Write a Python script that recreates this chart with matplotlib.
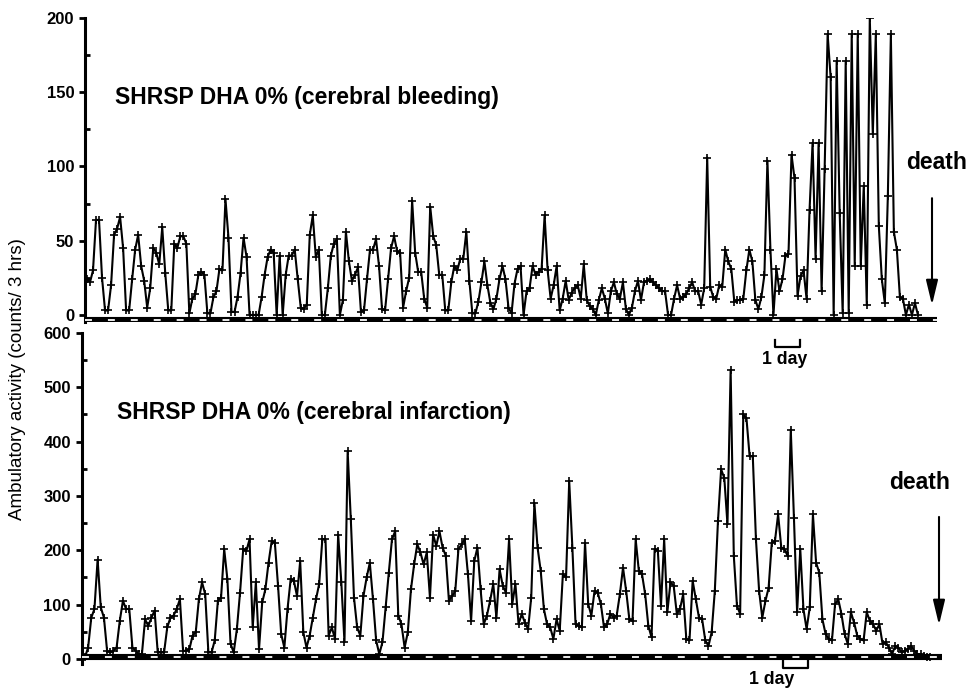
import matplotlib
matplotlib.use('Agg')
import matplotlib.pyplot as plt
import matplotlib.transforms as mtransforms

plt.rcParams['font.family'] = ['Liberation Sans', 'DejaVu Sans']
plt.rcParams['lines.scale_dashes'] = False

# ambulatory activity, counts per 3-hour bin
bleeding = [
    24, 22, 30, 64, 64, 25, 3, 3, 20, 54, 58, 66, 45, 3, 3, 24, 44, 54, 33, 23,
    5, 18, 45, 42, 34, 59, 28, 3, 3, 48, 45, 53, 53, 48, 1, 11, 14, 27, 29, 27,
    1, 1, 12, 16, 31, 30, 78, 52, 2, 2, 12, 28, 52, 39, 0, 0, 0, 0, 12,
    27, 39, 44, 42, 0, 40, 0, 27, 40, 40, 44, 24, 5, 4, 7, 54, 67, 39, 44, 0,
    0,
    18, 40, 48, 51, 0, 10, 56, 36, 23, 27, 32, 2, 3, 24, 44, 44, 51, 33, 4,
    3, 24, 45, 53, 43, 42, 5, 16, 25, 77, 42, 29, 29, 11, 5, 73, 53, 47, 27, 27,
    3, 3, 22, 33, 30, 38, 38, 56, 23, 1, 1, 9, 22, 36, 20, 8, 4, 11, 24, 33, 24, 5,
    1, 21, 31, 33, 0, 16, 18, 33, 27, 29, 31, 67, 30, 11, 20, 33, 3, 11, 23, 10, 15,
    18, 20, 11, 34, 10, 6, 4, 0, 10, 18, 11, 1, 16, 22, 14, 11, 22, 4, 0, 5, 16, 23,
    10, 22, 23,
    24, 22, 20, 18, 16, 16, 0, 0, 11, 20, 11, 12, 14, 18, 22, 16, 16, 7, 18, 106, 19,
    12, 11, 20, 19, 44, 36, 31, 9, 10, 10, 11, 30, 44, 36, 10, 4, 12, 27, 104, 44,
    0, 31, 16, 24, 40, 41, 108, 92, 13, 26, 30, 11,
    71, 116, 38, 116, 16, 98, 189, 160, 0, 171, 69, 1, 171, 1, 189, 33, 189, 33,
    87, 7, 200, 122, 189, 60, 24, 8, 80, 189, 56, 44, 12, 11, 0, 7,
    0, 8, 0,
]

infarction = [
    3, 21, 76, 92, 183, 95, 76, 15, 12, 15, 21, 70, 107, 92, 92, 21, 15, 9, 9, 73,
    61, 76, 89, 12, 12, 12, 58, 76, 80, 92, 110, 15, 15, 18, 43, 49, 110, 141, 119, 12,
    12, 34, 107, 113, 202, 147, 28, 12, 55, 122, 202, 199, 220, 58, 141, 18, 104, 128, 177, 217,
    214, 135, 46, 21, 92, 147, 144, 116, 180, 49, 21, 43, 76, 110, 138, 220, 220, 43,
    58, 37, 229, 141, 31, 382, 257, 113, 58, 43, 116, 150, 177, 110, 34, 9, 31, 95, 159, 220,
    235, 80, 64, 21, 49, 128, 174, 211, 196, 174, 196, 113, 229, 208, 235, 205, 190, 107, 116, 125,
    202, 211, 220, 156, 70, 180, 205, 128, 64, 80, 107, 138, 76, 165, 135, 122, 220,
    101, 138, 64, 83, 67, 55, 113, 287, 205, 162, 92, 64, 58, 37, 73, 52, 156, 150, 327, 205,
    64, 61, 58, 214, 101, 80, 125, 122, 101, 58, 64, 83, 76, 80, 119, 168, 125, 73, 70, 220,
    162, 156, 119, 61,
    40, 202, 199, 98, 220, 86, 141, 135, 83, 92, 119, 37, 34, 144, 110, 76, 73, 34, 24,
    49, 125, 254, 349, 333, 248, 532, 190, 98, 83, 450, 443, 373, 373, 220, 125, 76, 107, 131, 214,
    217, 266, 205, 202, 190, 422, 260, 86, 202, 92, 55, 95, 266, 177, 159, 73, 46, 37, 34, 101,
    110, 83, 46, 28, 86, 67, 43, 37, 34, 86, 70, 64, 52, 64, 28, 31, 21, 9, 24, 21,
    12, 15, 18, 24, 15, 9, 9, 6, 3, 3,
]

HOURS_PER_BIN = 3
top_label = 'SHRSP DHA 0% (cerebral bleeding)'
bottom_label = 'SHRSP DHA 0% (cerebral infarction)'
ylabel = 'Ambulatory activity (counts/ 3 hrs)'

fig = plt.figure(figsize=(9.68, 6.9), dpi=100)
ax1 = fig.add_axes([0.0883, 0.5328, 0.8797, 0.4411])
ax2 = fig.add_axes([0.0847, 0.0371, 0.8884, 0.4803])
ax1.set_zorder(3)  # keep the "1 day" mark of the top panel above the lower axes


def panel(ax, values, ylim, major, minor, xlim, bar_y, label, label_pos,
          death_x, death_y, arrow_x, arrow_y, day_x, day_y, day_text_x, day_text_y):
    hours = [i * HOURS_PER_BIN for i in range(len(values))]
    ax.plot(hours, values, color='k', lw=1.5, marker='+', ms=5.5, mew=1.2, zorder=3)

    # thick baseline with white day dashes
    ax.axhline(bar_y, color='k', lw=4.4, solid_capstyle='butt', zorder=4)
    ax.axhline(bar_y, color='w', lw=1.3, dashes=(5, 11.5), zorder=5)

    ax.set_xlim(*xlim)
    ax.set_ylim(*ylim)
    ax.set_xticks([])
    ax.set_yticks(range(0, ylim[1] + 1, major))
    ax.set_yticks(range(0, ylim[1] + 1, minor), minor=True)
    for s in ('top', 'right', 'bottom'):
        ax.spines[s].set_visible(False)
    ax.spines['left'].set_linewidth(2.2)
    ax.tick_params(axis='y', which='major', direction='out', length=4, width=2,
                   labelsize=12, pad=4)
    ax.tick_params(axis='y', which='minor', direction='in', length=3.5, width=2)
    for t in ax.get_yticklabels():
        t.set_fontweight('bold')

    ax.text(label_pos[0], label_pos[1], label, transform=ax.transAxes,
            fontsize=16.5, fontweight='bold', ha='left', va='center')

    tr = mtransforms.blended_transform_factory(ax.transData, ax.transAxes)
    ax.text(death_x, death_y, 'death', transform=tr, fontsize=16.5,
            fontweight='bold', ha='center', va='center', clip_on=False)
    ax.annotate('', xy=(arrow_x, arrow_y[1]), xycoords=tr,
                xytext=(arrow_x, arrow_y[0]), textcoords=tr,
                arrowprops=dict(arrowstyle='-|>,head_length=1.5,head_width=0.36',
                                mutation_scale=10, lw=1.5, color='k',
                                shrinkA=0, shrinkB=0),
                annotation_clip=False)

    ax.plot([day_x, day_x, day_x + 24, day_x + 24],
            [day_y[0], day_y[1], day_y[1], day_y[0]],
            transform=tr, color='k', lw=1.6, clip_on=False)
    ax.text(day_text_x, day_text_y, '1 day', transform=tr, fontsize=12.7,
            fontweight='bold', ha='center', va='center', clip_on=False)


panel(ax1, bleeding, (-5, 200), 50, 25, (-1.5, 847), -3.4, top_label,
      (0.0346, 0.740), 847, 0.525, 842, (0.408, 0.057), 686, (-0.058, -0.081),
      695, -0.122)
panel(ax2, infarction, (-10, 600), 100, 50, (-2.8, 812.3), 3, bottom_label,
      (0.0407, 0.759), 791.5, 0.550, 809.5, (0.445, 0.119), 661.6, (0.010, -0.011),
      651, -0.047)

fig.text(0.018, 0.4507, ylabel, rotation=90, ha='center', va='center',
         fontsize=13.5)

fig.savefig('out.png', dpi=100)
